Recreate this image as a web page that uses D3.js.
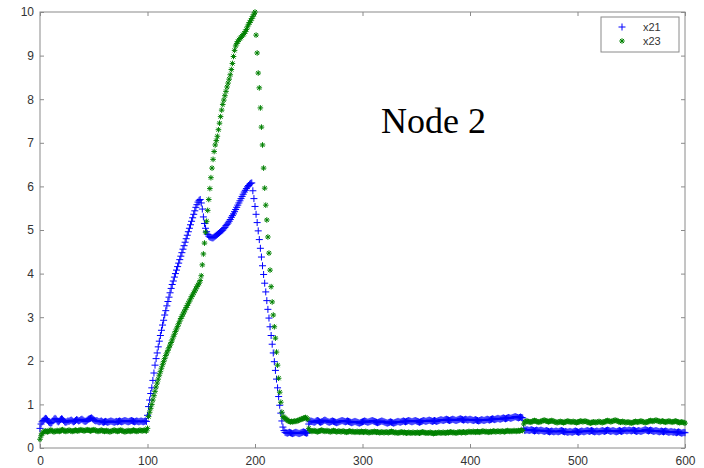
<!DOCTYPE html>
<html>
<head>
<meta charset="utf-8">
<script src="https://cdn.jsdelivr.net/npm/d3@7"></script>
<style>
  html, body { margin: 0; padding: 0; background: #fff; }
  svg { display: block; }
  .tick text { font-family: "Liberation Sans", Arial, sans-serif; font-size: 12px; fill: #333; }
</style>
</head>
<body>
<svg id="chart" width="704" height="468"></svg>
<script>
// Node 2 traffic traces, one sample per time step (0..600)
const x21 = [
  0.45,0.55,0.60,0.63,0.66,0.68,0.67,0.64,0.60,0.58,
  0.57,0.58,0.62,0.66,0.68,0.66,0.62,0.60,0.62,0.65,
  0.67,0.66,0.63,0.60,0.59,0.60,0.62,0.61,0.63,0.64,
  0.62,0.60,0.61,0.63,0.65,0.64,0.62,0.63,0.65,0.66,
  0.64,0.62,0.61,0.62,0.64,0.66,0.67,0.68,0.69,0.67,
  0.65,0.63,0.62,0.63,0.61,0.60,0.61,0.62,0.60,0.59,
  0.60,0.61,0.60,0.59,0.60,0.61,0.62,0.61,0.60,0.59,
  0.60,0.61,0.60,0.61,0.62,0.61,0.60,0.61,0.62,0.63,
  0.62,0.61,0.60,0.61,0.62,0.63,0.62,0.61,0.60,0.61,
  0.62,0.61,0.60,0.61,0.62,0.61,0.60,0.61,0.62,0.61,
  0.75,0.95,1.10,1.25,1.38,1.55,1.72,1.90,2.05,2.18,
  2.32,2.45,2.58,2.70,2.82,2.93,3.05,3.15,3.26,3.36,
  3.46,3.56,3.66,3.75,3.83,3.92,4.00,4.08,4.16,4.24,
  4.32,4.40,4.48,4.56,4.64,4.72,4.80,4.88,4.96,5.04,
  5.12,5.20,5.28,5.36,5.44,5.52,5.58,5.64,5.68,5.70,
  5.62,5.48,5.30,5.15,5.04,4.96,4.90,4.86,4.84,4.83,
  4.82,4.82,4.84,4.86,4.88,4.90,4.92,4.94,4.96,4.98,
  5.00,5.03,5.06,5.10,5.13,5.16,5.20,5.24,5.29,5.33,
  5.37,5.42,5.47,5.52,5.57,5.62,5.67,5.72,5.77,5.82,
  5.87,5.91,5.95,5.99,6.02,6.05,6.07,6.08,5.90,5.72,
  5.54,5.36,5.17,4.98,4.78,4.58,4.38,4.18,3.98,3.78,
  3.58,3.38,3.18,2.98,2.78,2.58,2.38,2.18,1.98,1.78,
  1.58,1.38,1.18,0.98,0.80,0.62,0.48,0.40,0.36,0.35,
  0.34,0.35,0.36,0.35,0.34,0.33,0.34,0.35,0.36,0.35,
  0.34,0.33,0.34,0.35,0.36,0.37,0.36,0.35,0.34,0.35,
  0.55,0.60,0.62,0.61,0.60,0.59,0.60,0.62,0.63,0.62,
  0.60,0.59,0.60,0.61,0.63,0.64,0.63,0.61,0.60,0.59,
  0.60,0.61,0.62,0.61,0.60,0.59,0.58,0.59,0.60,0.61,
  0.62,0.63,0.62,0.61,0.60,0.61,0.62,0.61,0.60,0.59,
  0.58,0.59,0.60,0.61,0.60,0.59,0.58,0.57,0.58,0.59,
  0.60,0.61,0.62,0.61,0.60,0.59,0.60,0.61,0.62,0.63,
  0.62,0.61,0.60,0.59,0.58,0.59,0.60,0.61,0.62,0.61,
  0.60,0.59,0.58,0.57,0.58,0.59,0.60,0.59,0.58,0.57,
  0.58,0.59,0.60,0.61,0.60,0.59,0.60,0.61,0.62,0.61,
  0.60,0.61,0.62,0.63,0.62,0.61,0.60,0.61,0.62,0.63,
  0.62,0.61,0.60,0.59,0.60,0.61,0.62,0.63,0.62,0.61,
  0.62,0.63,0.64,0.63,0.62,0.61,0.62,0.63,0.62,0.61,
  0.62,0.63,0.64,0.65,0.64,0.63,0.64,0.65,0.66,0.65,
  0.64,0.63,0.64,0.65,0.66,0.65,0.64,0.63,0.64,0.65,
  0.66,0.67,0.66,0.65,0.64,0.65,0.66,0.65,0.64,0.65,
  0.66,0.65,0.64,0.63,0.64,0.65,0.64,0.63,0.62,0.63,
  0.64,0.65,0.64,0.63,0.64,0.65,0.66,0.65,0.64,0.65,
  0.66,0.67,0.66,0.65,0.66,0.67,0.68,0.67,0.66,0.67,
  0.68,0.69,0.68,0.67,0.68,0.69,0.70,0.69,0.68,0.69,
  0.70,0.71,0.72,0.71,0.70,0.69,0.70,0.71,0.70,0.69,
  0.45,0.40,0.41,0.42,0.41,0.40,0.41,0.42,0.41,0.40,
  0.39,0.40,0.41,0.40,0.39,0.40,0.41,0.40,0.39,0.38,
  0.39,0.40,0.39,0.38,0.37,0.38,0.39,0.38,0.37,0.38,
  0.39,0.38,0.37,0.38,0.39,0.40,0.39,0.38,0.37,0.38,
  0.37,0.36,0.37,0.38,0.37,0.36,0.37,0.38,0.39,0.38,
  0.37,0.36,0.37,0.38,0.39,0.38,0.37,0.38,0.39,0.40,
  0.39,0.38,0.39,0.40,0.39,0.38,0.37,0.38,0.39,0.38,
  0.37,0.38,0.39,0.40,0.39,0.38,0.39,0.40,0.41,0.40,
  0.39,0.38,0.39,0.40,0.39,0.38,0.37,0.38,0.39,0.40,
  0.39,0.38,0.39,0.40,0.41,0.40,0.39,0.40,0.41,0.40,
  0.39,0.40,0.41,0.40,0.39,0.38,0.39,0.40,0.39,0.38,
  0.39,0.40,0.41,0.42,0.41,0.40,0.39,0.40,0.41,0.40,
  0.39,0.38,0.39,0.40,0.39,0.38,0.37,0.38,0.39,0.38,
  0.37,0.38,0.39,0.38,0.37,0.36,0.37,0.38,0.37,0.36,
  0.37,0.36,0.35,0.36,0.37,0.36,0.35,0.34,0.35,0.36,
  0.35
];

const x23 = [
  0.20,0.28,0.33,0.36,0.38,0.39,0.38,0.37,0.38,0.40,
  0.41,0.40,0.38,0.37,0.38,0.39,0.40,0.39,0.38,0.39,
  0.41,0.42,0.40,0.39,0.38,0.39,0.40,0.41,0.40,0.39,
  0.38,0.39,0.40,0.41,0.40,0.39,0.40,0.41,0.42,0.41,
  0.40,0.39,0.40,0.41,0.42,0.41,0.40,0.39,0.40,0.41,
  0.42,0.41,0.40,0.39,0.38,0.39,0.40,0.41,0.40,0.39,
  0.38,0.39,0.40,0.39,0.38,0.37,0.38,0.39,0.40,0.41,
  0.40,0.39,0.38,0.39,0.40,0.41,0.40,0.39,0.38,0.37,
  0.38,0.39,0.40,0.39,0.38,0.39,0.40,0.41,0.40,0.39,
  0.38,0.39,0.40,0.41,0.40,0.39,0.40,0.41,0.40,0.39,
  0.45,0.72,0.82,0.91,1.00,1.10,1.20,1.30,1.40,1.49,
  1.58,1.67,1.75,1.83,1.91,1.98,2.05,2.12,2.18,2.24,
  2.30,2.36,2.42,2.48,2.55,2.61,2.67,2.73,2.79,2.85,
  2.91,2.97,3.02,3.07,3.12,3.17,3.22,3.27,3.32,3.37,
  3.42,3.47,3.51,3.56,3.60,3.65,3.70,3.74,3.78,3.84,
  3.95,4.20,4.45,4.70,4.95,5.20,5.45,5.70,5.95,6.20,
  6.42,6.62,6.80,6.95,7.05,7.15,7.30,7.45,7.60,7.75,
  7.88,7.98,8.08,8.18,8.28,8.37,8.46,8.56,8.68,8.82,
  8.98,9.12,9.22,9.28,9.32,9.36,9.39,9.42,9.45,9.48,
  9.51,9.55,9.60,9.66,9.72,9.76,9.80,9.85,9.90,9.95,
  10.00,9.47,9.06,8.60,8.26,7.80,7.36,6.95,6.42,5.96,
  5.57,5.23,4.84,4.47,4.08,3.70,3.35,3.05,2.78,2.52,
  2.20,1.90,1.60,1.28,1.05,0.82,0.72,0.70,0.68,0.66,
  0.64,0.62,0.61,0.60,0.61,0.60,0.61,0.62,0.61,0.62,
  0.63,0.64,0.65,0.66,0.67,0.68,0.69,0.70,0.68,0.66,
  0.45,0.40,0.39,0.38,0.39,0.40,0.39,0.38,0.37,0.38,
  0.39,0.40,0.41,0.40,0.39,0.38,0.39,0.40,0.39,0.38,
  0.37,0.38,0.39,0.40,0.39,0.38,0.37,0.38,0.39,0.38,
  0.37,0.38,0.39,0.38,0.37,0.36,0.37,0.38,0.39,0.38,
  0.37,0.38,0.37,0.36,0.37,0.38,0.37,0.36,0.37,0.38,
  0.37,0.36,0.37,0.38,0.37,0.36,0.35,0.36,0.37,0.36,
  0.37,0.38,0.37,0.36,0.37,0.36,0.35,0.36,0.37,0.36,
  0.35,0.36,0.37,0.36,0.35,0.36,0.37,0.38,0.37,0.36,
  0.35,0.36,0.35,0.34,0.35,0.36,0.37,0.36,0.35,0.36,
  0.35,0.34,0.35,0.36,0.35,0.34,0.35,0.36,0.35,0.34,
  0.35,0.36,0.35,0.34,0.35,0.36,0.37,0.36,0.35,0.34,
  0.35,0.34,0.35,0.36,0.35,0.34,0.33,0.34,0.35,0.34,
  0.35,0.36,0.35,0.34,0.35,0.36,0.35,0.34,0.35,0.36,
  0.35,0.36,0.37,0.36,0.35,0.36,0.35,0.34,0.35,0.36,
  0.37,0.36,0.35,0.36,0.37,0.36,0.35,0.36,0.37,0.38,
  0.37,0.36,0.37,0.38,0.37,0.36,0.37,0.38,0.37,0.36,
  0.37,0.38,0.39,0.38,0.37,0.38,0.37,0.36,0.37,0.38,
  0.37,0.38,0.39,0.38,0.37,0.38,0.39,0.38,0.37,0.38,
  0.39,0.38,0.37,0.38,0.39,0.40,0.39,0.38,0.39,0.38,
  0.39,0.40,0.39,0.38,0.39,0.40,0.39,0.40,0.41,0.40,
  0.55,0.60,0.61,0.62,0.61,0.60,0.59,0.60,0.61,0.62,
  0.63,0.62,0.61,0.60,0.59,0.60,0.61,0.62,0.63,0.64,
  0.63,0.62,0.61,0.60,0.61,0.62,0.63,0.62,0.61,0.60,
  0.59,0.58,0.59,0.60,0.61,0.60,0.59,0.58,0.59,0.60,
  0.61,0.62,0.61,0.60,0.59,0.60,0.61,0.60,0.59,0.58,
  0.59,0.60,0.61,0.62,0.61,0.60,0.61,0.62,0.61,0.60,
  0.59,0.58,0.57,0.58,0.59,0.60,0.59,0.58,0.59,0.60,
  0.61,0.60,0.59,0.58,0.59,0.60,0.61,0.62,0.63,0.62,
  0.61,0.60,0.61,0.62,0.63,0.64,0.63,0.62,0.61,0.60,
  0.59,0.60,0.61,0.60,0.59,0.58,0.59,0.60,0.59,0.58,
  0.57,0.58,0.59,0.60,0.61,0.60,0.59,0.60,0.61,0.62,
  0.61,0.60,0.59,0.58,0.59,0.60,0.61,0.62,0.63,0.62,
  0.61,0.62,0.63,0.64,0.63,0.62,0.61,0.60,0.61,0.62,
  0.61,0.60,0.59,0.60,0.61,0.62,0.61,0.60,0.59,0.60,
  0.61,0.62,0.61,0.60,0.59,0.58,0.59,0.60,0.59,0.58,
  0.57
];

const seriesNames = ["x21", "x23"];
const seriesColors = ["#0000ff", "#008000"];
const xTicks = [0, 100, 200, 300, 400, 500, 600];
const yTicks = [0, 1, 2, 3, 4, 5, 6, 7, 8, 9, 10];
const annotation = "Node 2";

const svg = d3.select("#chart");
const plot = { left: 40, right: 685, top: 12, bottom: 448 };

const x = d3.scaleLinear().domain([0, 600]).range([plot.left, plot.right]);
const y = d3.scaleLinear().domain([0, 10]).range([plot.bottom, plot.top]);

const axisColor = "#8a8a8a";
const tickLen = 4;

// bottom and left axes with inward ticks
const gx = svg.append("g")
  .attr("transform", `translate(0,${plot.bottom})`)
  .call(d3.axisBottom(x).tickValues(xTicks).tickFormat(d3.format("d"))
    .tickSizeInner(-tickLen).tickSizeOuter(0).tickPadding(8));
const gy = svg.append("g")
  .attr("transform", `translate(${plot.left},0)`)
  .call(d3.axisLeft(y).tickValues(yTicks).tickFormat(d3.format("d"))
    .tickSizeInner(-tickLen).tickSizeOuter(0).tickPadding(6));

// mirrored ticks on top and right edges
const gxTop = svg.append("g")
  .attr("transform", `translate(0,${plot.top})`)
  .call(d3.axisTop(x).tickValues(xTicks).tickFormat("")
    .tickSizeInner(-tickLen).tickSizeOuter(0));
const gyRight = svg.append("g")
  .attr("transform", `translate(${plot.right},0)`)
  .call(d3.axisRight(y).tickValues(yTicks).tickFormat("")
    .tickSizeInner(-tickLen).tickSizeOuter(0));

[gx, gy, gxTop, gyRight].forEach(g => {
  g.select(".domain").remove();
  g.selectAll(".tick line").attr("stroke", axisColor);
});

// axes box
svg.append("rect")
  .attr("x", plot.left).attr("y", plot.top)
  .attr("width", plot.right - plot.left).attr("height", plot.bottom - plot.top)
  .attr("fill", "none").attr("stroke", axisColor).attr("stroke-width", 1);

// marker shapes: '+' and '*'
const plusPath = r => `M${-r},0H${r}M0,${-r}V${r}`;
const starPath = r => {
  const d = r * 0.72;
  return `M${-r},0H${r}M0,${-r}V${r}M${-d},${-d}L${d},${d}M${-d},${d}L${d},${-d}`;
};
const markerPaths = [plusPath(3.5), starPath(2.8)];

const seriesData = [x21, x23];
seriesData.forEach((vals, s) => {
  svg.append("g")
    .attr("fill", "none")
    .attr("stroke", seriesColors[s])
    .attr("stroke-width", 1)
    .selectAll("path")
    .data(vals)
    .join("path")
    .attr("transform", (v, i) => `translate(${x(i)},${y(v)})`)
    .attr("d", markerPaths[s]);
});

// annotation
svg.append("text")
  .attr("x", 381).attr("y", 133)
  .attr("font-family", "'Liberation Serif', 'Times New Roman', serif")
  .attr("font-size", 36)
  .attr("fill", "#000")
  .text(annotation);

// legend
const lg = svg.append("g").attr("transform", "translate(601,17)");
lg.append("rect")
  .attr("width", 78).attr("height", 35)
  .attr("fill", "#fff").attr("stroke", axisColor);
seriesNames.forEach((name, s) => {
  const yy = 10 + s * 14;
  lg.append("path")
    .attr("transform", `translate(21,${yy})`)
    .attr("d", markerPaths[s])
    .attr("fill", "none")
    .attr("stroke", seriesColors[s]);
  lg.append("text")
    .attr("x", 42).attr("y", yy + 4)
    .attr("font-family", "'Liberation Sans', Arial, sans-serif")
    .attr("font-size", 11)
    .attr("fill", "#333")
    .text(name);
});
</script>
</body>
</html>
